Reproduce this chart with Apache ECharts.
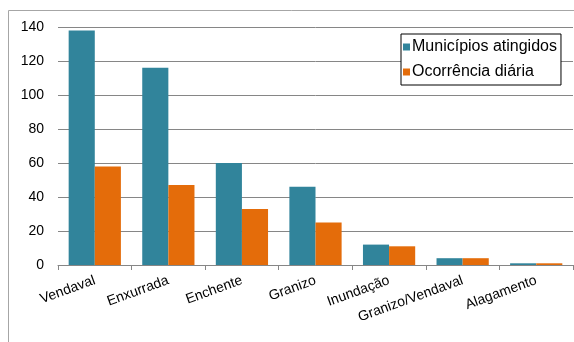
<!DOCTYPE html>
<html><head><meta charset="utf-8">
<script src="https://cdn.jsdelivr.net/npm/echarts@6/dist/echarts.min.js"></script>
<style>html,body{margin:0;padding:0;background:#fff}#c{width:574px;height:342px}</style>
</head><body><div id="c"></div>
<script>
const categories = ['Vendaval','Enxurrada','Enchente','Granizo','Inundação','Granizo/Vendaval','Alagamento'];
const municipios = [138,116,60,46,12,4,1];
const ocorrencia = [58,47,33,25,11,4,1];
const yTicks = [0,20,40,60,80,100,120,140];
const seriesNames = ['Municípios atingidos','Ocorrência diária'];

const chart = echarts.init(document.getElementById('c'), null, {renderer:'canvas'});
const font = 'Liberation Sans, Arial, sans-serif';
chart.setOption({
  animation:false,
  backgroundColor:'#fff',
  graphic:[{type:'rect',shape:{x:8.5,y:10.5,width:600,height:400},style:{fill:'none',stroke:'#a6a6a6',lineWidth:1},silent:true,z:-1}],
  grid:{left:58,right:1,top:27,bottom:77,containLabel:false},
  legend:{
    orient:'vertical', left:401, top:34,
    itemWidth:7, itemHeight:7, itemGap:9, icon:'rect',
    padding:[5,4,5,2],
    borderColor:'#000', borderWidth:1, backgroundColor:'#fff',
    textStyle:{fontFamily:font,fontSize:16,color:'#000',padding:[0,0,0,-3],lineHeight:16},
    data:seriesNames
  },
  xAxis:{
    type:'category', data:categories,
    axisLine:{lineStyle:{color:'#868686'}},
    axisTick:{show:true,length:5,lineStyle:{color:'#868686'}},
    axisLabel:{rotate:20,fontFamily:font,fontSize:14,color:'#000',margin:15,interval:0}
  },
  yAxis:{
    type:'value', min:yTicks[0], max:yTicks[yTicks.length-1], interval:20,
    axisLine:{show:false}, axisTick:{show:false},
    splitLine:{lineStyle:{color:'#868686'}},
    axisLabel:{fontFamily:font,fontSize:14,color:'#000',margin:14}
  },
  series:[
    {name:seriesNames[0],type:'bar',data:municipios,itemStyle:{color:'#31849B'},barGap:'0%',barCategoryGap:'29%'},
    {name:seriesNames[1],type:'bar',data:ocorrencia,itemStyle:{color:'#E46C0A'},barGap:'0%',barCategoryGap:'29%'}
  ]
});
</script></body></html>
